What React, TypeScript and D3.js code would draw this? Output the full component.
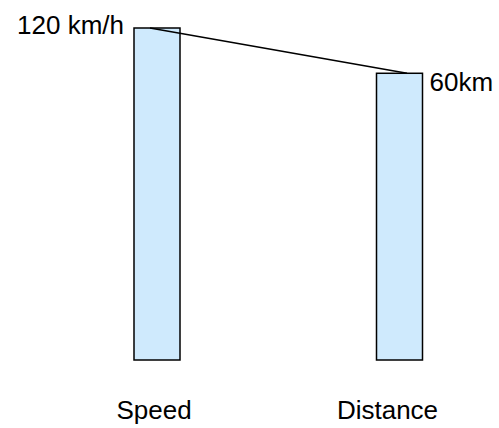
import React from "react";
import * as d3 from "d3";

const categories = ["Speed", "Distance"];
const values = [120, 60];
const valueLabels = ["120 km/h", "60km"];

const W = 499;
const H = 428;

export default function App() {
  const x = d3.scalePoint<string>().domain(categories).range([157, 399.5]);
  const labelX = d3.scalePoint<string>().domain(categories).range([154, 387.5]);
  const y = d3.scaleLinear().domain([-320, 120]).range([360, 28]);
  const barW = 46;
  const font = "Liberation Sans, Arial, Helvetica, sans-serif";

  const linePts: [number, number][] = categories.map((c, i) => [
    (x(c) as number) + (i === 0 ? -7 : 7.5),
    y(values[i]),
  ]);
  const line = d3.line();

  return (
    <svg
      width={W}
      height={H}
      style={{ position: "absolute", left: 0, top: 0, background: "#fff" }}
    >
      {categories.map((c, i) => (
        <rect
          key={c}
          x={(x(c) as number) - barW / 2}
          y={y(values[i])}
          width={barW}
          height={y(-320) - y(values[i])}
          fill="#cfeafd"
          stroke="#000"
          strokeWidth={1.5}
        />
      ))}
      <path d={line(linePts) || ""} fill="none" stroke="#000" strokeWidth={1.6} />
      <text
        x={(x(categories[0]) as number) - barW / 2 - 10}
        y={y(values[0]) + 6}
        textAnchor="end"
        fontFamily={font}
        fontSize={26}
        fill="#000"
      >
        {valueLabels[0]}
      </text>
      <text
        x={(x(categories[1]) as number) + barW / 2 + 7}
        y={y(values[1]) + 18}
        textAnchor="start"
        fontFamily={font}
        fontSize={26}
        fill="#000"
      >
        {valueLabels[1]}
      </text>
      {categories.map((c) => (
        <text
          key={c}
          x={labelX(c) as number}
          y={419}
          textAnchor="middle"
          fontFamily={font}
          fontSize={26}
          fill="#000"
        >
          {c}
        </text>
      ))}
    </svg>
  );
}
